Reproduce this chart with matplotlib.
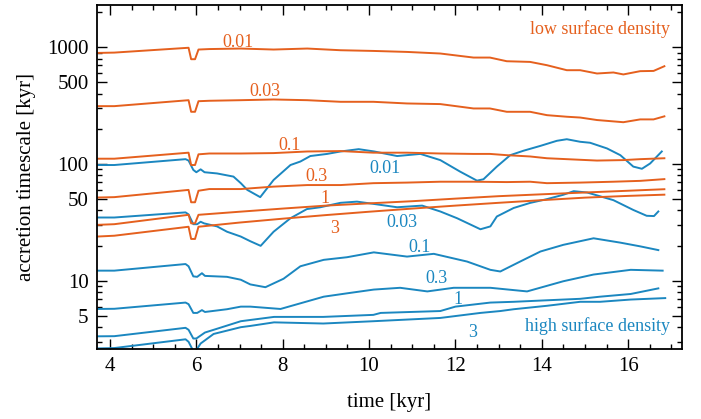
import matplotlib
matplotlib.use("Agg")
import matplotlib.pyplot as plt
from matplotlib.ticker import FixedLocator, FixedFormatter, LogLocator, NullFormatter

plt.rcParams['font.family'] = ['Liberation Serif', 'DejaVu Serif']

ORANGE = '#E5601E'
BLUE = '#1B87C0'

# ---- low surface density (orange) ----
lo_labels = ['0.01', '0.03', '0.1', '0.3', '1', '3']
lo_001_x = [3.7, 4.1, 5.82, 5.88, 5.97, 6.05, 6.3, 7.03, 7.79, 8.57, 9.34, 10.1, 10.88, 11.65, 12.42, 12.8,
            13.19, 13.73, 14.12, 14.58, 14.89, 15.28, 15.66, 15.89, 16.28, 16.59, 16.84]
lo_001_y = [894, 900, 990, 790, 790, 956, 965, 975, 956, 975, 943, 930, 912, 884, 816, 816,
            759, 749, 702, 636, 636, 596, 608, 585, 624, 627, 688]
lo_003_x = [3.7, 4.1, 5.82, 5.88, 5.97, 6.05, 6.3, 7.03, 7.79, 8.57, 9.34, 10.1, 10.88, 11.65, 12.42, 12.8,
            13.19, 13.73, 14.12, 14.58, 14.89, 15.28, 15.89, 16.28, 16.59, 16.84]
lo_003_y = [313, 313, 352, 280, 280, 345, 348, 352, 357, 352, 341, 341, 330, 326, 299, 299,
            280, 280, 262, 254, 250, 238, 228, 241, 241, 256]
lo_01_x = [3.7, 4.1, 5.82, 5.88, 5.97, 6.05, 6.3, 7.03, 7.79, 8.57, 9.34, 10.1, 10.88, 11.65, 12.42, 12.8,
           13.19, 13.73, 14.12, 14.58, 15.28, 15.89, 16.28, 16.84]
lo_01_y = [111, 111, 125, 98, 98, 121, 123, 123, 124, 128, 129, 125, 125, 123, 122, 122,
           119, 116, 112, 110, 107, 108, 110, 112]
lo_03_x = [3.7, 4.1, 5.82, 5.88, 5.97, 6.05, 6.3, 7.03, 7.79, 8.57, 9.34, 10.1, 10.88, 11.65, 12.42,
           13.19, 13.73, 14.12, 14.89, 15.66, 16.28, 16.84]
lo_03_y = [51.6, 52, 60, 47, 47, 59, 61, 61, 64, 66, 66, 68.5, 69.3, 70.5, 70.5,
           70, 70.5, 68.5, 69.3, 70.5, 71.7, 74.2]
lo_1_x = [3.7, 4.1, 5.82, 5.88, 5.97, 6.05, 7.0, 8.0, 9.0, 10.0, 11.0, 12.0, 13.0, 14.0, 15.0, 16.0, 16.84]
lo_1_y = [30.1, 30.5, 36.7, 31, 31, 36.7, 39, 41.5, 44, 46, 48, 50.5, 53, 55, 57, 59, 60.8]
lo_3_x = [3.7, 4.1, 5.82, 5.88, 5.97, 6.05, 7.0, 8.0, 9.0, 10.0, 11.0, 12.0, 13.0, 14.0, 15.0, 16.0, 16.84]
lo_3_y = [23.9, 24.3, 29, 22.8, 22.8, 29, 31.5, 34, 36.5, 39, 41.5, 44, 46.5, 49, 51.5, 53.3, 54.6]

# ---- high surface density (blue) ----
hi_001_x = [3.7, 4.1, 5.75, 5.82, 5.93, 6.0, 6.1, 6.19, 6.48, 6.86, 7.03, 7.18, 7.48, 7.79, 8.18, 8.41, 8.64,
            9.03, 9.34, 9.76, 10.12, 10.65, 11.19, 11.65, 12.11, 12.5, 12.65, 12.96, 13.27, 13.58, 13.97,
            14.35, 14.58, 14.89, 15.12, 15.51, 15.82, 16.12, 16.32, 16.51, 16.78]
hi_001_y = [98, 98, 110, 107, 89, 85, 90, 85, 83, 78, 68.5, 60, 52, 73, 98, 105, 117,
            122, 128, 134, 128, 117, 122, 108, 86, 72, 74, 95, 119, 130, 143,
            158, 163, 155, 152, 136, 119, 95, 91, 101, 128]
hi_003_x = [3.7, 4.1, 5.75, 5.82, 5.93, 6.02, 6.1, 6.18, 6.48, 6.71, 7.03, 7.25, 7.49, 7.79, 8.18, 8.56,
            8.87, 9.34, 9.72, 10.11, 10.65, 11.23, 11.65, 12.04, 12.58, 12.81, 12.96, 13.35, 13.73, 14.12,
            14.5, 14.74, 15.05, 15.66, 16.12, 16.43, 16.6, 16.7]
hi_003_y = [34.8, 34.8, 38.5, 37, 30.5, 30.5, 32, 31, 29.2, 26.3, 23.9, 21.8, 19.9, 26.3, 34.3, 41.1,
            42.6, 46.5, 47.6, 45.5, 42.6, 44, 39.2, 34.3, 27.6, 29.2, 35.5, 42, 46.4, 50,
            54.5, 58.5, 57, 49, 40.4, 36, 35.8, 39.2]
hi_01_x = [3.7, 4.1, 5.75, 5.82, 5.93, 6.02, 6.13, 6.2, 6.71, 7.03, 7.25, 7.6, 8.02, 8.41, 8.95, 9.49,
           10.11, 10.88, 11.5, 12.27, 12.81, 13.04, 13.5, 13.97, 14.5, 15.2, 15.82, 16.28, 16.7]
hi_01_y = [12.2, 12.2, 13.9, 13.3, 10.9, 10.8, 11.6, 11.0, 10.8, 10.2, 9.3, 8.8, 10.4, 13.3, 15.1, 15.9,
           17.5, 16.1, 17, 14.6, 12.4, 12.0, 14.6, 17.8, 20.3, 23.1, 21.2, 19.7, 18.3]
hi_03_x = [3.7, 4.1, 5.75, 5.82, 5.93, 6.02, 6.13, 6.2, 6.71, 7.03, 7.25, 7.95, 8.95, 9.49, 10.11, 10.72,
           11.35, 11.96, 12.81, 13.66, 14.5, 15.2, 16.06, 16.8]
hi_03_y = [5.73, 5.75, 6.5, 6.3, 5.3, 5.3, 5.6, 5.4, 5.7, 6.0, 6.0, 5.73, 7.3, 7.8, 8.4, 8.7,
           8.1, 8.7, 8.7, 8.1, 9.9, 11.3, 12.4, 12.2]
hi_1_x = [3.7, 4.1, 5.75, 5.82, 5.93, 6.0, 6.2, 6.5, 7.03, 7.8, 8.94, 10.1, 10.27, 11.65, 12.0, 12.81,
          13.35, 14.12, 14.89, 15.35, 16.06, 16.7]
hi_1_y = [3.34, 3.35, 3.95, 3.8, 3.2, 3.2, 3.6, 3.9, 4.5, 4.9, 4.9, 5.1, 5.3, 5.5, 6.0, 6.5,
          6.6, 6.8, 7.0, 7.3, 7.7, 8.6]
hi_3_x = [3.7, 4.1, 5.75, 5.82, 5.93, 6.0, 6.1, 6.4, 7.03, 7.25, 7.8, 8.94, 10.1, 11.65, 12.58, 13.04,
          13.35, 14.12, 14.89, 15.35, 16.06, 16.86]
hi_3_y = [2.63, 2.65, 3.15, 3.0, 2.5, 2.55, 2.9, 3.5, 4.0, 4.1, 4.4, 4.3, 4.5, 4.8, 5.3, 5.5,
          5.7, 6.1, 6.6, 6.6, 6.9, 7.1]

# label anchor positions (data coords)
lo_lab_x = [6.97, 7.58, 8.16, 8.78, 8.99, 9.20]
lo_lab_y = [1104, 421, 143, 78.8, 50.2, 27.8]
hi_lab_x = [10.38, 10.77, 11.16, 11.56, 12.07, 12.39]
hi_lab_y = [90.6, 31.3, 19.1, 10.4, 6.9, 3.6]

y_major = [5, 10, 50, 100, 500, 1000]
y_major_labels = ['5', '10', '50', '100', '500', '1000']
x_major = [4, 6, 8, 10, 12, 14, 16]

fig = plt.figure(figsize=(7.01, 4.19), dpi=100)
ax = fig.add_axes([0.1384, 0.167, 0.8346, 0.821])

lo_series = [(lo_001_x, lo_001_y), (lo_003_x, lo_003_y), (lo_01_x, lo_01_y),
             (lo_03_x, lo_03_y), (lo_1_x, lo_1_y), (lo_3_x, lo_3_y)]
hi_series = [(hi_001_x, hi_001_y), (hi_003_x, hi_003_y), (hi_01_x, hi_01_y),
             (hi_03_x, hi_03_y), (hi_1_x, hi_1_y), (hi_3_x, hi_3_y)]

for x, y in hi_series:
    ax.plot(x, y, color=BLUE, lw=1.4, solid_joinstyle='round')
for x, y in lo_series:
    ax.plot(x, y, color=ORANGE, lw=1.4, solid_joinstyle='round')

for lab, lx, ly in zip(lo_labels, lo_lab_x, lo_lab_y):
    ax.text(lx, ly, lab, color=ORANGE, fontsize=13, ha='center', va='center')
for lab, lx, ly in zip(lo_labels, hi_lab_x, hi_lab_y):
    ax.text(lx, ly, lab, color=BLUE, fontsize=13, ha='center', va='center')

ax.text(0.979, 0.930, 'low surface density', color=ORANGE, fontsize=13,
        ha='right', va='center', transform=ax.transAxes)
ax.text(0.979, 0.067, 'high surface density', color=BLUE, fontsize=13,
        ha='right', va='center', transform=ax.transAxes)

ax.set_yscale('log')
ax.set_xlim(3.7, 17.25)
ax.set_ylim(2.6, 2300)

ax.yaxis.set_major_locator(FixedLocator(y_major))
ax.yaxis.set_major_formatter(FixedFormatter(y_major_labels))
ax.yaxis.set_minor_locator(LogLocator(base=10, subs=[2, 3, 4, 5, 6, 7, 8, 9]))
ax.yaxis.set_minor_formatter(NullFormatter())
ax.xaxis.set_major_locator(FixedLocator(x_major))
ax.xaxis.set_minor_locator(FixedLocator([v / 2 for v in range(7, 35)]))

ax.tick_params(which='both', direction='in', top=True, right=True, labelsize=15)
ax.tick_params(which='major', length=7, width=1.0, pad=6)
ax.tick_params(which='minor', length=3.5, width=1.0)
for s in ax.spines.values():
    s.set_linewidth(1.3)

ax.set_xlabel('time [kyr]', fontsize=15, labelpad=12)
ax.set_ylabel('accretion timescale [kyr]', fontsize=15, labelpad=8)

fig.savefig('out.png', dpi=100)
